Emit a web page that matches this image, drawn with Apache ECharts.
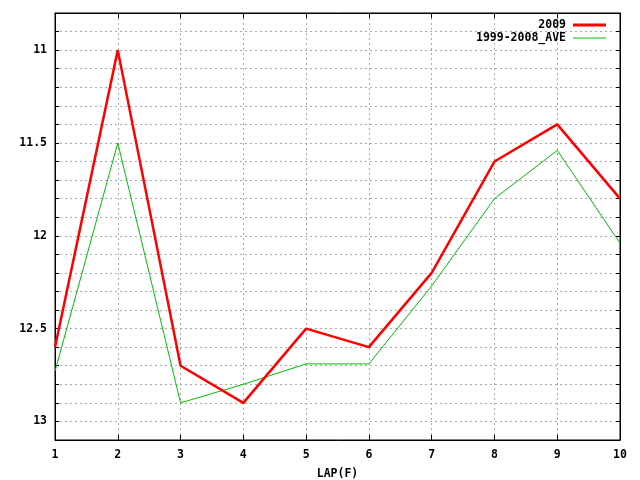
<!DOCTYPE html>
<html>
<head>
<meta charset="utf-8">
<script src="https://cdn.jsdelivr.net/npm/echarts@6/dist/echarts.min.js"></script>
<style>
  html, body { margin: 0; padding: 0; background: #fff; }
  #chart { width: 640px; height: 480px; }
</style>
</head>
<body>
<div id="chart"></div>
<script>
// 周回 (LAP) と ラップタイム
const laps = [1, 2, 3, 4, 5, 6, 7, 8, 9, 10];
const time2009 = [12.6, 11.0, 12.7, 12.9, 12.5, 12.6, 12.2, 11.6, 11.4, 11.8];
const timeAve = [12.73, 11.5, 12.9, 12.8, 12.69, 12.69, 12.27, 11.8, 11.54, 12.04];
const seriesNames = ['2009', '1999-2008_AVE'];

const FONT = 'DejaVu Sans Mono';
const labelStyle = { color: '#000', fontFamily: FONT, fontWeight: 'bold', fontSize: 11.5 };
const gridLine = { show: true, lineStyle: { color: '#a8a8a8', type: [2, 3], width: 1 } };

// y軸ラベルは 0.5 刻みだけ表示
const yLabel = (v) => {
  const d = v * 2;
  if (Math.abs(d - Math.round(d)) > 1e-6) return '';
  return String(Number(v.toFixed(1)));
};

// 凡例は線の太さが違うので 2 つに分ける
const legendBase = {
  right: 29,
  orient: 'vertical',
  align: 'right',
  icon: 'rect',
  itemWidth: 33,
  textStyle: { color: '#000', fontFamily: FONT, fontWeight: 'bold', fontSize: 11.5, padding: [0, 2, 0, 0] }
};

const chart = echarts.init(document.getElementById('chart'));
chart.setOption({
  animation: false,
  backgroundColor: '#fff',
  grid: {
    left: 55, right: 20, top: 13, bottom: 40,
    outerBoundsMode: 'none',
    show: true, borderColor: '#000', borderWidth: 1
  },
  legend: [
    Object.assign({}, legendBase, { top: 14, itemHeight: 3, data: [seriesNames[0]] }),
    Object.assign({}, legendBase, { top: 27, itemHeight: 1, data: [seriesNames[1]] })
  ],
  xAxis: [
    {
      type: 'value', min: 1, max: 10, interval: 1,
      name: 'LAP(F)', nameLocation: 'middle', nameGap: 28,
      nameTextStyle: labelStyle,
      axisLine: { show: true, lineStyle: { color: '#000' } },
      axisTick: { show: true, inside: true, length: 5, lineStyle: { color: '#000' } },
      axisLabel: Object.assign({ margin: 9 }, labelStyle),
      splitLine: gridLine
    },
    {
      type: 'value', position: 'top', min: 1, max: 10, interval: 1,
      axisLine: { show: true, lineStyle: { color: '#000' } },
      axisTick: { show: true, inside: true, length: 5, lineStyle: { color: '#000' } },
      axisLabel: { show: false },
      splitLine: { show: false }
    }
  ],
  yAxis: [
    {
      type: 'value', inverse: true, min: 10.8, max: 13.1, interval: 0.1,
      axisLine: { show: true, lineStyle: { color: '#000' } },
      axisTick: { show: true, inside: true, length: 4, lineStyle: { color: '#000' } },
      axisLabel: Object.assign({ margin: 8, formatter: yLabel }, labelStyle),
      splitLine: gridLine
    },
    {
      type: 'value', position: 'right', inverse: true, min: 10.8, max: 13.1, interval: 0.1,
      axisLine: { show: true, lineStyle: { color: '#000' } },
      axisTick: { show: true, inside: true, length: 4, lineStyle: { color: '#000' } },
      axisLabel: { show: false },
      splitLine: { show: false }
    }
  ],
  series: [
    {
      name: seriesNames[0],
      type: 'line',
      symbol: 'none',
      data: laps.map((x, i) => [x, time2009[i]]),
      itemStyle: { color: '#ff0000' },
      lineStyle: { color: '#ff0000', width: 2.5 },
      z: 3
    },
    {
      name: seriesNames[1],
      type: 'line',
      symbol: 'none',
      data: laps.map((x, i) => [x, timeAve[i]]),
      itemStyle: { color: '#00c000' },
      lineStyle: { color: '#00c000', width: 1 },
      z: 2
    }
  ]
});
</script>
</body>
</html>
